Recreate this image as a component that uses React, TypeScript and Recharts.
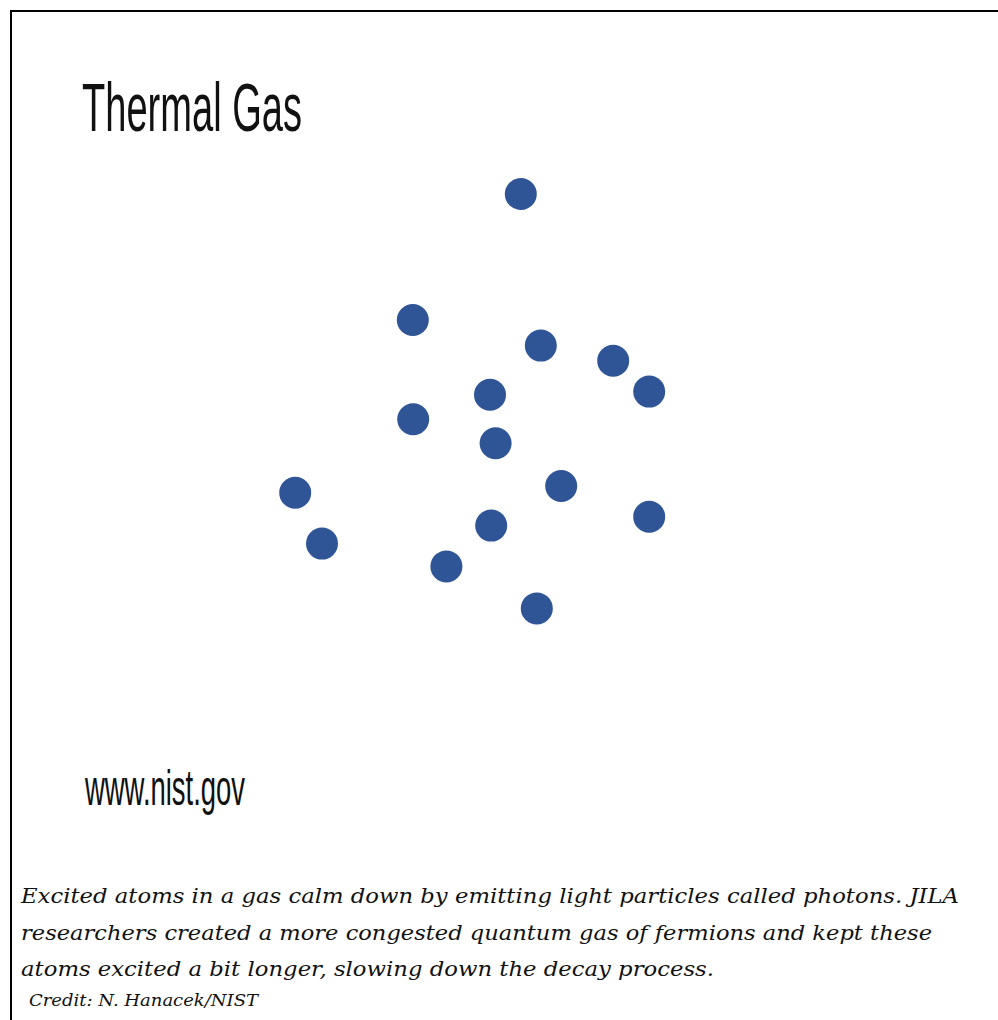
import { ScatterChart, Scatter, XAxis, YAxis } from 'recharts';

// atom positions (arbitrary units, x 0-10, y 0-11.5)
const atomX = [6.27, 3.57, 6.77, 8.58, 9.48, 5.5, 3.58, 5.64, 7.28, 0.63, 9.48, 5.53, 1.3, 4.41, 6.67];
const atomY = [10.9, 7.75, 7.11, 6.73, 5.96, 5.88, 5.27, 4.67, 3.6, 3.43, 2.83, 2.61, 2.16, 1.59, 0.54];

const title = 'Thermal Gas';
const site = 'www.nist.gov';
const captionLines = [
  'Excited atoms in a gas calm down by emitting light particles called photons. JILA',
  'researchers created a more congested quantum gas of fermions and kept these',
  'atoms excited a bit longer, slowing down the decay process.',
];
const credit = 'Credit: N. Hanacek/NIST';

const atoms = atomX.map((x, i) => ({ x, y: atomY[i] }));

const ATOM_BLUE = '#2f5597';

const Atom = (props: any) => {
  const { cx, cy } = props;
  if (cx == null || cy == null) return null;
  return <circle cx={cx} cy={cy} r={16} fill={ATOM_BLUE} />;
};

export default function App() {
  // fixed so the page never grows a scrollbar
  return (
    <div style={{ position: 'fixed', left: 8, top: 8, width: 990, height: 1012, overflow: 'hidden', background: '#fff' }}>
      {/* frame: only top and left edges are visible in the crop */}
      <div
        style={{
          position: 'absolute',
          left: 2,
          top: 2,
          width: 1200,
          height: 1200,
          borderTop: '2px solid #000',
          borderLeft: '2px solid #000',
        }}
      />
      <div style={{ position: 'absolute', left: 262, top: 162 }}>
        <ScatterChart width={400} height={460} margin={{ top: 0, right: 0, bottom: 0, left: 0 }}>
          <XAxis type="number" dataKey="x" domain={[0, 10]} hide />
          <YAxis type="number" dataKey="y" domain={[0, 11.5]} hide />
          <Scatter data={atoms} shape={<Atom />} isAnimationActive={false} />
        </ScatterChart>
      </div>
      <svg width={990} height={1012} style={{ position: 'absolute', left: 0, top: 0, pointerEvents: 'none' }}>
        <text
          x={74}
          y={123}
          fontFamily="'Liberation Sans Narrow', 'Liberation Sans', sans-serif"
          fontSize={68}
          textLength={220}
          lengthAdjust="spacingAndGlyphs"
          fill="#111"
        >
          {title}
        </text>
        <text
          x={77}
          y={797}
          fontFamily="'Liberation Sans Narrow', 'Liberation Sans', sans-serif"
          fontSize={50}
          textLength={160}
          lengthAdjust="spacingAndGlyphs"
          fill="#111"
        >
          {site}
        </text>
        {captionLines.map((line, i) => (
          <text
            key={i}
            x={13}
            y={895 + i * 36.5}
            fontFamily="'DejaVu Serif', serif"
            fontStyle="italic"
            fontSize={21}
            textLength={[938, 911, 693][i]}
            lengthAdjust="spacingAndGlyphs"
            fill="#111"
          >
            {line}
          </text>
        ))}
        <text
          x={21}
          y={998}
          fontFamily="'DejaVu Serif', serif"
          fontStyle="italic"
          fontSize={16}
          textLength={229}
          lengthAdjust="spacingAndGlyphs"
          fill="#111"
        >
          {credit}
        </text>
      </svg>
    </div>
  );
}
